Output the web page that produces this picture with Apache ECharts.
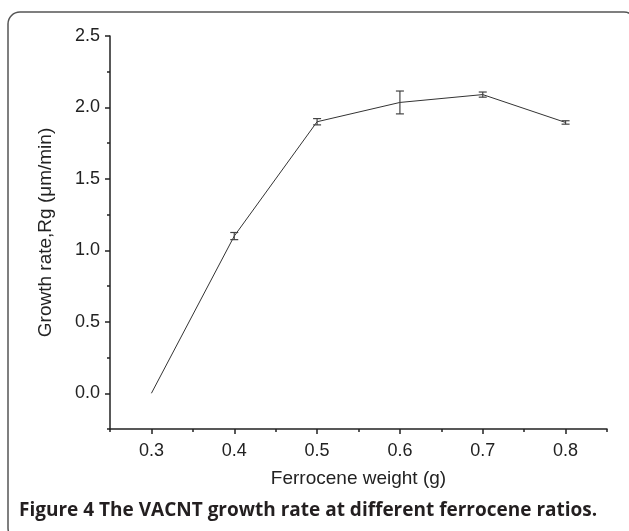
<!DOCTYPE html>
<html>
<head>
<meta charset="utf-8">
<title>VACNT growth rate</title>
<script src="https://cdn.jsdelivr.net/npm/echarts@6/dist/echarts.min.js"></script>
<style>
  html, body { margin: 0; padding: 0; background: #fff; }
  #chart { width: 629px; height: 531px; }
</style>
</head>
<body>
<div id="chart"></div>
<script>
// data
var weight = [0.3, 0.4, 0.5, 0.6, 0.7, 0.8];
var rate = [0.0, 1.10, 1.90, 2.035, 2.09, 1.895];
var rateErr = [0, 0.025, 0.022, 0.08, 0.018, 0.012];

var xMajor = [0.3, 0.4, 0.5, 0.6, 0.7, 0.8];
var xMinor = [0.25, 0.35, 0.45, 0.55, 0.65, 0.75, 0.85];
var yMajor = [0.0, 0.5, 1.0, 1.5, 2.0, 2.5];
var yMinor = [-0.25, 0.25, 0.75, 1.25, 1.75, 2.25];

var axisColor = '#222';
var font = '"Liberation Sans", Arial, sans-serif';

var lineData = weight.map(function (w, i) { return [w, rate[i]]; });
var errData = [];
weight.forEach(function (w, i) {
  if (rateErr[i] > 0) errData.push([w, rate[i] - rateErr[i], rate[i] + rateErr[i]]);
});

function baseX(extra) {
  return Object.assign({
    type: 'value', min: 0.25, max: 0.85, position: 'bottom',
    splitLine: { show: false }
  }, extra);
}
function baseY(extra) {
  return Object.assign({
    type: 'value', min: -0.25, max: 2.5, position: 'left',
    splitLine: { show: false }
  }, extra);
}

var chart = echarts.init(document.getElementById('chart'));
chart.setOption({
  animation: false,
  title: {
    text: 'Figure 4 The VACNT growth rate at different ferrocene ratios.',
    left: 14, top: 496,
    textStyle: { fontFamily: '"Open Sans", sans-serif', fontWeight: 'bold', fontSize: 19, color: '#231f20' }
  },
  graphic: [{
    type: 'rect',
    shape: { x: 8, y: 12, width: 628, height: 528, r: 12 },
    style: { fill: 'none', stroke: '#555', lineWidth: 1.5 },
    silent: true
  }],
  grid: { left: 110, right: 22, top: 36, bottom: 102 },
  xAxis: [
    baseX({
      name: 'Ferrocene weight (g)', nameLocation: 'middle', nameGap: 40,
      nameTextStyle: { fontFamily: font, fontSize: 19, color: '#222' },
      axisLine: { onZero: false, lineStyle: { color: axisColor, width: 1.5 } },
      axisTick: { customValues: xMajor, length: 5, lineStyle: { color: axisColor, width: 1.5 } },
      axisLabel: {
        customValues: xMajor, margin: 13,
        fontFamily: font, fontSize: 18, color: '#222',
        formatter: function (v) { return v.toFixed(1); }
      }
    }),
    baseX({
      axisLine: { show: false, onZero: false },
      axisTick: { customValues: xMinor, length: 3, lineStyle: { color: axisColor, width: 1.5 } },
      axisLabel: { show: false }
    })
  ],
  yAxis: [
    baseY({
      name: 'Growth rate,Rg (μm/min)', nameLocation: 'middle', nameGap: 55,
      nameTextStyle: { fontFamily: font, fontSize: 19, color: '#222' },
      axisLine: { show: true, onZero: false, lineStyle: { color: axisColor, width: 1.5 } },
      axisTick: { show: true, customValues: yMajor, length: 5, lineStyle: { color: axisColor, width: 1.5 } },
      axisLabel: {
        customValues: yMajor, margin: 10,
        fontFamily: font, fontSize: 18, color: '#222',
        formatter: function (v) { return v.toFixed(1); }
      }
    }),
    baseY({
      axisLine: { show: false, onZero: false },
      axisTick: { show: true, customValues: yMinor, length: 3, lineStyle: { color: axisColor, width: 1.5 } },
      axisLabel: { show: false }
    })
  ],
  series: [
    {
      type: 'line',
      data: lineData,
      symbol: 'none',
      lineStyle: { color: '#333', width: 1 },
      z: 3
    },
    {
      type: 'custom',
      data: errData,
      renderItem: function (params, api) {
        var x = api.value(0);
        var lo = api.coord([x, api.value(1)]);
        var hi = api.coord([x, api.value(2)]);
        var cap = 4;
        var st = { stroke: '#444', lineWidth: 1.2 };
        return {
          type: 'group',
          children: [
            { type: 'line', shape: { x1: lo[0], y1: lo[1], x2: hi[0], y2: hi[1] }, style: st },
            { type: 'line', shape: { x1: lo[0] - cap, y1: lo[1], x2: lo[0] + cap, y2: lo[1] }, style: st },
            { type: 'line', shape: { x1: hi[0] - cap, y1: hi[1], x2: hi[0] + cap, y2: hi[1] }, style: st }
          ]
        };
      },
      z: 4
    }
  ]
});
</script>
</body>
</html>
